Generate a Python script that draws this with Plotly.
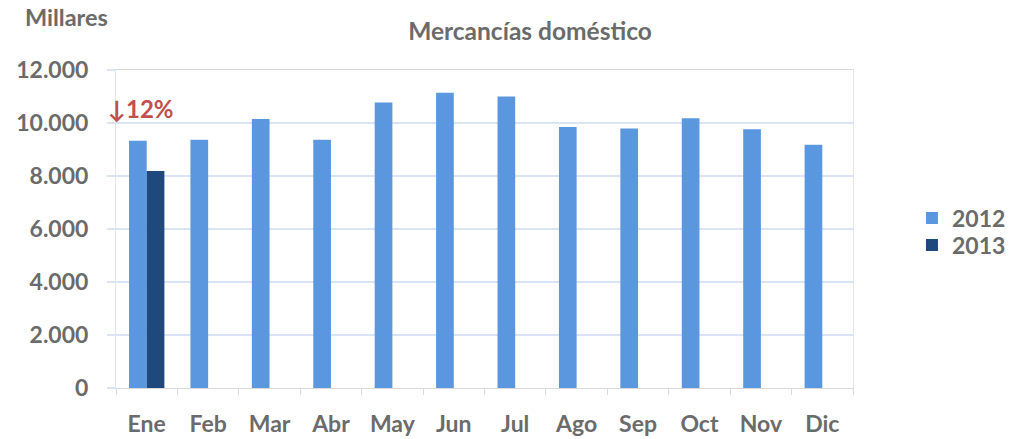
import plotly.graph_objects as go

months = ["Ene", "Feb", "Mar", "Abr", "May", "Jun", "Jul", "Ago", "Sep", "Oct", "Nov", "Dic"]
v2012 = [9330, 9370, 10150, 9370, 10770, 11140, 11000, 9850, 9790, 10180, 9760, 9180]
months_2013 = ["Ene"]
v2013 = [8190]
y_ticks = [0, 2000, 4000, 6000, 8000, 10000, 12000]

FONT = "Lato"
GRAY = "#6b6b6b"
GRID = "#dbe4f5"

fig = go.Figure()
fig.add_trace(go.Bar(x=months, y=v2012, name="2012", legend="legend",
                     marker=dict(color="#5b97de", line=dict(width=0))))
fig.add_trace(go.Bar(x=months_2013, y=v2013, name="2013", legend="legend2",
                     marker=dict(color="#1f497d", line=dict(width=0))))

leg_font = dict(size=23, color=GRAY, family=FONT, weight="bold")

fig.update_layout(
    width=1032, height=439,
    margin=dict(l=116, r=179, t=70, b=51, autoexpand=False),
    paper_bgcolor="white", plot_bgcolor="white",
    barmode="group", bargap=0.424, bargroupgap=0,
    separators=",.",
    font=dict(family=FONT, color=GRAY),
    title=dict(text="Mercancías doméstico", x=530 / 1032, xanchor="center",
               y=1 - 31 / 439, yanchor="middle",
               font=dict(size=24.5, color=GRAY, family=FONT, weight="bold")),
    legend=dict(x=1.08, y=0.5346, xanchor="left", yanchor="middle",
                font=leg_font, itemwidth=30, bgcolor="rgba(0,0,0,0)"),
    legend2=dict(x=1.08, y=0.4497, xanchor="left", yanchor="middle",
                 font=leg_font, itemwidth=30, bgcolor="rgba(0,0,0,0)"),
    showlegend=True,
)
fig.update_xaxes(
    categoryorder="array", categoryarray=months,
    showline=True, linecolor="#d9d9d9", linewidth=1, mirror=True,
    ticks="outside", tickson="boundaries", ticklen=6, tickcolor="#d9d9d9",
    tickfont=dict(size=23, color=GRAY, family=FONT, weight="bold"),
    ticklabelstandoff=15, automargin=False,
    showgrid=False,
)
fig.update_yaxes(
    range=[0, 12000], tickvals=y_ticks, tickformat=",d",
    showgrid=True, gridcolor=GRID, gridwidth=1.5,
    showline=True, linecolor="#e6e6e6", mirror=True,
    zeroline=False, automargin=False,
    ticks="outside", ticklen=8, tickcolor=GRID, tickwidth=1.5,
    tickfont=dict(size=23, color=GRAY, family=FONT, weight="bold"), ticklabelstandoff=14,
)
fig.add_annotation(text="Millares", xref="paper", yref="paper", x=-0.067, y=(388 - 17) / 318,
                   xanchor="center", yanchor="middle", showarrow=False, borderpad=0,
                   font=dict(size=23.5, color=GRAY, family=FONT, weight="bold"))
fig.add_annotation(text="↓12%", xref="paper", yref="paper", x=-0.013, y=0.878,
                   xanchor="left", yanchor="middle", showarrow=False,
                   font=dict(size=24, color="#c0504d", family=FONT, weight="bold"))

# remove the browser's default 8px body margin so the figure fills the window exactly
fig.write_html("out.html", config={"displayModeBar": False},
               post_script="document.body.style.margin='0';document.body.style.overflow='hidden';")
